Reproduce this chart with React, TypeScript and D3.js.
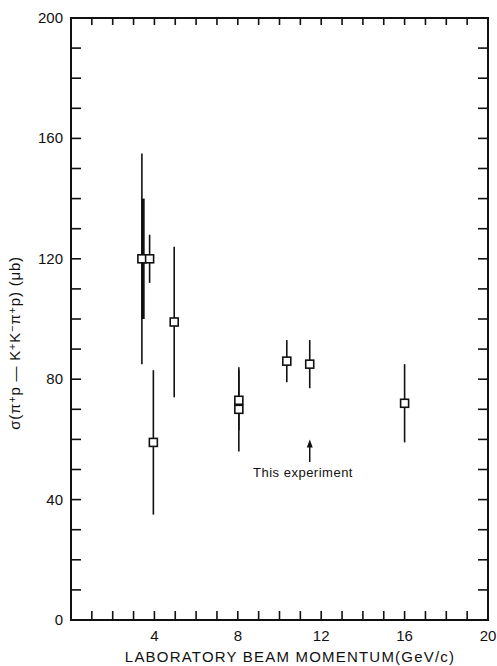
import { useEffect, useRef } from 'react';
import * as d3 from 'd3';

// momentum (GeV/c), cross section (μb), symmetric error (μb)
const momentum = [3.4, 3.45, 3.77, 3.95, 4.95, 8.05, 8.05, 10.35, 11.45, 16.0];
const sigma = [120, 120, 120, 59, 99, 73, 70, 86, 85, 72];
const sigmaErr = [35, 20, 8, 24, 25, 10, 14, 7, 8, 13];
const thickBar = [false, true, false, false, false, false, false, false, false, false];
const drawBox = [true, false, true, true, true, true, true, true, true, true];

const xTickLabels = [4, 8, 12, 16, 20];
const yTickLabels = [0, 40, 80, 120, 160, 200];

const experimentX = 11.45;
const arrowFrom = 52.5;
const arrowTo = 60;

const W = 497;
const H = 666;

export default function App() {
  const svgRef = useRef<SVGSVGElement>(null);

  useEffect(() => {
    const svg = d3.select(svgRef.current);
    svg.selectAll('*').remove();

    const left = 71, right = 488, top = 18, bottom = 620;
    const x = d3.scaleLinear().domain([0, 20]).range([left, right]);
    const y = d3.scaleLinear().domain([0, 200]).range([bottom, top]);
    const font = 'Liberation Sans, Arial, sans-serif';

    const g = svg.append('g');

    // minor ticks, inward on all sides
    d3.range(1, 20).forEach(v => {
      g.append('line').attr('x1', x(v)).attr('x2', x(v)).attr('y1', bottom).attr('y2', bottom - 9)
        .attr('stroke', '#111').attr('stroke-width', 1.6);
      g.append('line').attr('x1', x(v)).attr('x2', x(v)).attr('y1', top).attr('y2', top + 7)
        .attr('stroke', '#111').attr('stroke-width', 1.6);
    });
    d3.range(10, 200, 10).forEach(v => {
      g.append('line').attr('x1', left).attr('x2', left + 10).attr('y1', y(v)).attr('y2', y(v))
        .attr('stroke', '#111').attr('stroke-width', 1.6);
      g.append('line').attr('x1', right).attr('x2', right - 10).attr('y1', y(v)).attr('y2', y(v))
        .attr('stroke', '#111').attr('stroke-width', 1.6);
    });

    g.append('rect')
      .attr('x', left).attr('y', top)
      .attr('width', right - left).attr('height', bottom - top)
      .attr('fill', 'none').attr('stroke', '#111').attr('stroke-width', 2);

    // tick labels
    g.selectAll('.xl').data(xTickLabels).join('text')
      .attr('x', d => x(d)).attr('y', 641)
      .attr('text-anchor', 'middle')
      .attr('font-family', font).attr('font-size', 15).attr('fill', '#111')
      .text(d => d);
    g.selectAll('.yl').data(yTickLabels).join('text')
      .attr('x', 63).attr('y', d => y(d) + 5)
      .attr('text-anchor', 'end')
      .attr('font-family', font).attr('font-size', 15).attr('fill', '#111')
      .text(d => d);

    // axis titles
    g.append('text')
      .attr('x', 290).attr('y', 662)
      .attr('text-anchor', 'middle')
      .attr('font-family', font).attr('font-size', 15).attr('fill', '#111')
      .attr('letter-spacing', 1.2)
      .text('LABORATORY BEAM MOMENTUM(GeV/c)');

    const yt = g.append('text')
      .attr('transform', 'translate(20,343) rotate(-90)')
      .attr('text-anchor', 'middle')
      .attr('font-family', font).attr('font-size', 15).attr('fill', '#111')
      .attr('letter-spacing', 0.8);
    const parts: [string, boolean][] = [
      ['σ(π', false], ['+', true], ['p —  K', false], ['+', true], ['K', false], ['−', true],
      ['π', false], ['+', true], ['p)  (μb)', false],
    ];
    parts.forEach(([t, sup]) => {
      const ts = yt.append('tspan').text(t);
      if (sup) ts.attr('baseline-shift', '40%').attr('font-size', 11);
    });

    // error bars
    momentum.forEach((m, i) => {
      g.append('line')
        .attr('x1', x(m)).attr('x2', x(m))
        .attr('y1', y(sigma[i] + sigmaErr[i])).attr('y2', y(sigma[i] - sigmaErr[i]))
        .attr('stroke', '#111').attr('stroke-width', thickBar[i] ? 3.5 : 1.6);
    });

    // boxes
    const bs = 8;
    momentum.forEach((m, i) => {
      if (!drawBox[i]) return;
      g.append('rect')
        .attr('x', x(m) - bs / 2).attr('y', y(sigma[i]) - bs / 2)
        .attr('width', bs).attr('height', bs)
        .attr('fill', '#fff').attr('stroke', '#111').attr('stroke-width', 1.6);
    });

    // annotation arrow
    g.append('line')
      .attr('x1', x(experimentX)).attr('x2', x(experimentX))
      .attr('y1', y(arrowFrom)).attr('y2', y(arrowTo) + 5)
      .attr('stroke', '#111').attr('stroke-width', 1.5);
    const ax = x(experimentX), ay = y(arrowTo);
    g.append('path')
      .attr('d', `M${ax},${ay} L${ax - 3},${ay + 8} L${ax + 3},${ay + 8} Z`)
      .attr('fill', '#111');
    g.append('text')
      .attr('x', 303).attr('y', 477)
      .attr('text-anchor', 'middle')
      .attr('font-family', font).attr('font-size', 13).attr('fill', '#111')
      .attr('letter-spacing', 0.5)
      .text('This experiment');
  }, []);

  return (
    <svg ref={svgRef} width={W} height={H}
      style={{ position: 'absolute', left: 0, top: 0, background: '#fff' }} />
  );
}
